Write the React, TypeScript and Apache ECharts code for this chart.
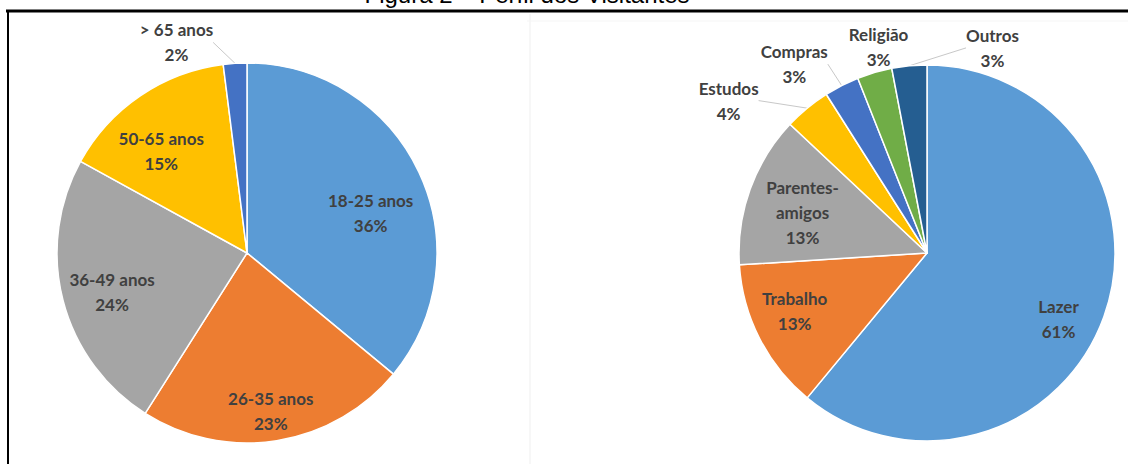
import React, { useEffect, useRef } from "react";
import * as echarts from "echarts";

// ---- data ----
const ageCategories = ["18-25 anos", "26-35 anos", "36-49 anos", "50-65 anos", "> 65 anos"];
const ageValues = [36, 23, 24, 15, 2];
const motiveCategories = ["Lazer", "Trabalho", "Parentes-amigos", "Estudos", "Compras", "Religião", "Outros"];
const motiveValues = [61, 13, 13, 4, 3, 3, 3];
const titleText = "Figura 2 – Perfil dos Visitantes";

// ---- styles ----
const ageColors = ["#5B9BD5", "#ED7D31", "#A5A5A5", "#FFC000", "#4472C4"];
const motiveColors = ["#5B9BD5", "#ED7D31", "#A5A5A5", "#FFC000", "#4472C4", "#70AD47", "#255E91"];
// outside labels: offset of the label centre from ECharts' default outside position
const outsideOffsets: Record<string, { dx: number; dy: number; line: boolean }> = {
  "> 65 anos": { dx: -16, dy: -6, line: true },
  Estudos: { dx: -34, dy: 4, line: true },
  Compras: { dx: -2, dy: -8, line: true },
  "Religião": { dx: 43, dy: -11, line: false },
  Outros: { dx: 116, dy: -3, line: true },
};
// inside labels: small nudges from ECharts' default inside position
const insideOffsets: Record<string, { dx: number; dy: number }> = {
  "18-25 anos": { dx: -8, dy: 22 },
  "26-35 anos": { dx: 1, dy: 14 },
  "36-49 anos": { dx: 6, dy: 3 },
  "50-65 anos": { dx: -4, dy: 18 },
  Lazer: { dx: -4, dy: 17 },
  Trabalho: { dx: -4, dy: -7 },
  "Parentes-amigos": { dx: 11, dy: 8 },
};

const FONT = "Lato, 'Open Sans', sans-serif";
const labelText = {
  color: "#404040",
  fontFamily: FONT,
  fontSize: 17,
  fontWeight: "bold" as const,
  lineHeight: 25,
  align: "center" as const,
};

const fmt = (p: any) => `${String(p.name).replace(/-(?=\p{L})/u, "-\n")}\n${p.value}%`;

function buildSeries(names: string[], values: number[], colors: string[], center: number[], radius: number) {
  const mainData = names.map((n, i) => {
    const out = outsideOffsets[n];
    return {
      name: n,
      value: values[i],
      itemStyle: { color: colors[i] },
      label: { show: !!out },
      labelLine: { show: !!(out && out.line) },
    };
  });
  const overlayData = names.map((n, i) => ({
    name: n,
    value: values[i],
    label: { show: !outsideOffsets[n] },
  }));
  const shift = (table: Record<string, { dx: number; dy: number }>) => (params: any) => {
    const o = table[names[params.dataIndex]];
    if (!o) return {};
    const r = params.labelRect;
    return {
      x: r.x + r.width / 2 + o.dx,
      y: r.y + r.height / 2 + o.dy,
      align: "center",
      verticalAlign: "middle",
    };
  };
  const main = {
    type: "pie",
    center,
    radius: [0, radius],
    startAngle: 90,
    clockwise: true,
    avoidLabelOverlap: false,
    itemStyle: { borderColor: "#ffffff", borderWidth: 1.5 },
    label: { position: "outside", formatter: fmt, distanceToLabelLine: 5, ...labelText },
    labelLine: { length: 15, length2: 0, lineStyle: { color: "#c8c8c8", width: 1 } },
    labelLayout: shift(outsideOffsets),
    emphasis: { disabled: true },
    data: mainData,
  };
  const overlay = {
    type: "pie",
    center,
    radius: [radius * 0.5, radius],
    startAngle: 90,
    clockwise: true,
    silent: true,
    avoidLabelOverlap: false,
    itemStyle: { color: "rgba(0,0,0,0)", borderWidth: 0 },
    label: { position: "inside", formatter: fmt, ...labelText },
    labelLine: { show: false },
    labelLayout: shift(insideOffsets),
    emphasis: { disabled: true },
    data: overlayData,
  };
  return [main, overlay];
}

export default function App() {
  const ref = useRef<HTMLDivElement>(null);
  useEffect(() => {
    if (!ref.current) return;
    const chart = echarts.init(ref.current, null, { renderer: "svg" });
    chart.setOption({
      animation: false,
      backgroundColor: "#ffffff",
      graphic: [
        {
          type: "text",
          x: 527,
          y: 6,
          style: {
            text: titleText,
            fontFamily: "'Liberation Sans', Arial, sans-serif",
            fontSize: 24,
            fill: "#000000",
            align: "center",
            verticalAlign: "bottom",
          },
        },
        { type: "line", shape: { x1: 6, y1: 11, x2: 1128, y2: 11 }, style: { stroke: "#000000", lineWidth: 3 } },
        { type: "line", shape: { x1: 8, y1: 10, x2: 8, y2: 464 }, style: { stroke: "#000000", lineWidth: 2 } },
        { type: "line", shape: { x1: 530, y1: 14, x2: 530, y2: 464 }, style: { stroke: "#efefef", lineWidth: 1 } },
        { type: "line", shape: { x1: 527, y1: 21, x2: 1128, y2: 21 }, style: { stroke: "#f5f5f5", lineWidth: 1 } },
      ],
      series: [
        ...buildSeries(ageCategories, ageValues, ageColors, [247, 253], 190),
        ...buildSeries(motiveCategories, motiveValues, motiveColors, [927, 253], 188),
      ],
    });
    return () => chart.dispose();
  }, []);
  return (
    <div
      ref={ref}
      style={{ position: "fixed", left: 0, top: 0, width: 1128, height: 464, background: "#fff" }}
    />
  );
}
